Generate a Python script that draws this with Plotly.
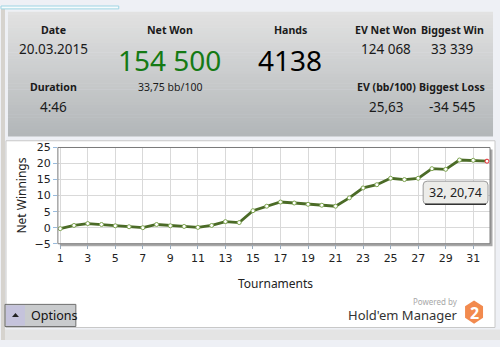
import plotly.graph_objects as go

W, H = 500, 347

tournaments = list(range(1, 33))
net_winnings = [-0.3, 0.7, 1.3, 1.0, 0.6, 0.3, 0.0, 1.0, 0.6, 0.4,
                0.1, 0.7, 1.9, 1.6, 5.3, 6.7, 8.0, 7.7, 7.3, 7.0,
                6.7, 9.3, 12.4, 13.4, 15.4, 15.0, 15.4, 18.4, 18.2, 21.1,
                21.0, 20.74]

stat_labels = ["Date", "Duration", "Net Won", "Hands", "EV Net Won", "Biggest Win", "EV (bb/100)", "Biggest Loss"]
stat_values = ["20.03.2015", "4:46", "154 500", "4138", "124 068", "33 339", "25,63", "-34 545"]
net_bb = "33,75 bb/100"


def px(x):
    return x / W


def py(y):
    return 1 - y / H


fig = go.Figure()

line_color = "#4b6b27"
marker_lines = ["#7fa552"] * (len(tournaments) - 1) + ["#e8232a"]
fig.add_trace(go.Scatter(
    x=tournaments, y=net_winnings, mode="lines+markers",
    line=dict(color=line_color, width=2.8),
    marker=dict(size=4, color="white", line=dict(color=marker_lines, width=1)),
    hoverinfo="skip", showlegend=False,
))

shapes = []
shapes.append(dict(type="rect", xref="paper", yref="paper", x0=0, x1=px(4), y0=0, y1=1,
                   fillcolor="#d6d3ce", line=dict(width=0), layer="below"))
shapes.append(dict(type="rect", xref="paper", yref="paper", x0=px(0), x1=px(118), y0=py(3), y1=py(0),
                   fillcolor="#f7fbfc", line=dict(color="#9fd5e3", width=1), layer="below"))
top_c = (0xe2, 0xe2, 0xe2)
bot_c = (0xb3, 0xb7, 0xb9)
y_top, y_bot = 6, 135
n = 40
for i in range(n):
    t = i / (n - 1)
    c = tuple(int(top_c[k] + (bot_c[k] - top_c[k]) * t) for k in range(3))
    ya = y_top + (y_bot - y_top) * i / n
    yb = y_top + (y_bot - y_top) * (i + 1) / n
    shapes.append(dict(type="rect", xref="paper", yref="paper", x0=px(7), x1=px(493),
                       y0=py(yb + 0.5), y1=py(ya), fillcolor="rgb(%d,%d,%d)" % c,
                       line=dict(width=0), layer="below"))
shapes.append(dict(type="rect", xref="paper", yref="paper", x0=px(5), x1=px(495), y0=py(334), y1=py(140),
                   fillcolor="white", line=dict(color="#c8c8c8", width=1), layer="below"))
shapes.append(dict(type="rect", xref="paper", yref="paper", x0=px(4), x1=px(500), y0=0, y1=py(336),
                   fillcolor="#e4e4e4", line=dict(width=0), layer="below"))
shapes.append(dict(type="rect", xref="paper", yref="paper", x0=px(59), x1=px(492.5), y0=py(249.5), y1=py(149),
                   fillcolor="#a8a8a8", line=dict(width=0), layer="below"))
shapes.append(dict(type="rect", xref="paper", yref="paper", x0=px(57), x1=px(490), y0=py(247), y1=py(147),
                   fillcolor="white", line=dict(width=0), layer="below"))
shapes.append(dict(type="rect", xref="paper", yref="paper", x0=px(57), x1=px(490), y0=py(247), y1=py(147),
                   fillcolor="rgba(0,0,0,0)", line=dict(color="#7a7a7a", width=1), layer="above"))

x0, x1, y0, y1, r = 423, 488, 182, 206, 4
path = ("M {a},{b} L {c},{b} Q {d},{b} {d},{e} L {d},{f} Q {d},{g} {c},{g} L {a},{g} Q {h},{g} {h},{f} "
        "L {h},{e} Q {h},{b} {a},{b} Z").format(
    a=px(x0 + r), b=py(y0), c=px(x1 - r), d=px(x1), e=py(y0 + r), f=py(y1 - r), g=py(y1), h=px(x0))
shapes.append(dict(type="path", xref="paper", yref="paper", path=path,
                   fillcolor="#ecece9", line=dict(color="#9a9a9a", width=1), layer="above"))
shapes.append(dict(type="line", xref="paper", yref="paper", x0=px(425), x1=px(486), y0=py(206), y1=py(206),
                   line=dict(color="#333333", width=1.5), layer="above"))

shapes.append(dict(type="rect", xref="paper", yref="paper", x0=px(4), x1=px(75), y0=py(333), y1=py(310),
                   fillcolor="#c9cbcd", line=dict(color="#6e6e6e", width=1), layer="above"))
shapes.append(dict(type="rect", xref="paper", yref="paper", x0=px(5), x1=px(24), y0=py(332), y1=py(311),
                   fillcolor="#c5c3dc", line=dict(width=0), layer="above"))
shapes.append(dict(type="path", xref="paper", yref="paper",
                   path="M {},{} L {},{} L {},{} Z".format(px(11), py(323), px(18), py(323), px(14.5), py(319)),
                   fillcolor="#222222", line=dict(width=0), layer="above"))

cx, cy = 474, 318
hx = [cx - 9, cx, cx + 9, cx + 9, cx, cx - 9]
hy = [cy - 6, cy - 12, cy - 6, cy + 6, cy + 12, cy + 6]
hpath = "M " + " L ".join("{},{}".format(px(a), py(b)) for a, b in zip(hx, hy)) + " Z"
shapes.append(dict(type="path", xref="paper", yref="paper", path=hpath,
                   fillcolor="#f28a4e", line=dict(width=0), layer="above"))

ann = []
FONT = "Noto Sans"


def text(x, y, s, size, color="#1a1a1a", bold=False, family=FONT, angle=0, xanchor="center"):
    ann.append(dict(x=px(x), y=py(y), xref="paper", yref="paper", text=("<b>%s</b>" % s) if bold else s,
                    showarrow=False, xanchor=xanchor, yanchor="middle", textangle=angle,
                    font=dict(family=family, size=size, color=color)))


LS = 10.6
text(53, 25, stat_labels[0], LS, bold=True)
text(53, 45, stat_values[0], 13.5)
text(53, 84, stat_labels[1], LS, bold=True)
text(53, 105, stat_values[1], 13.5)
text(169, 25, stat_labels[2], LS, bold=True)
text(169, 56, stat_values[2], 28, color="#157a15")
text(169, 84, net_bb, 10.5)
text(290, 25, stat_labels[3], LS, bold=True)
text(290, 56, stat_values[3], 28, color="#000000")
text(386, 25, stat_labels[4], LS, bold=True)
text(452, 25, stat_labels[5], LS, bold=True)
text(386, 45, stat_values[4], 13.5)
text(452, 45, stat_values[5], 13.5)
text(386, 84, stat_labels[6], LS, bold=True)
text(452, 84, stat_labels[7], LS, bold=True)
text(386, 105, stat_values[6], 13.5)
text(452, 105, stat_values[7], 13.5)

text(21, 197, "Net Winnings", 12, color="#222222", angle=-90)
text(275, 288, "Tournaments", 12, color="#222222")
text(455.5, 194, "%d, %s" % (tournaments[-1], ("%.2f" % net_winnings[-1]).replace(".", ",")), 12.5, color="#222222")
text(28, 322, "Options", 12.5, color="#111111", xanchor="left")
text(460, 307, "Powered by", 8, color="#a8a8a8", xanchor="right")
text(460, 321, "Hold'em Manager", 13, color="#333333", xanchor="right")
text(474.5, 318.5, "<b>2</b>", 16, color="white")

fig.update_layout(
    width=W, height=H, margin=dict(l=0, r=0, t=0, b=0),
    paper_bgcolor="#eef0f5", plot_bgcolor="rgba(0,0,0,0)",
    shapes=shapes, annotations=ann,
    xaxis=dict(domain=[px(57), px(490)], range=[0.83, 32.22], tick0=1, dtick=2,
               showgrid=True, gridcolor="#d9d9d9", gridwidth=1, zeroline=False,
               ticks="outside", ticklen=4, tickcolor="#9ab", showline=False,
               tickfont=dict(family="DejaVu Sans", size=11, color="#222222")),
    yaxis=dict(domain=[py(247), py(147)], range=[-5, 25], tick0=-5, dtick=5,
               showgrid=True, gridcolor="#d9d9d9", gridwidth=1, zeroline=False,
               ticks="outside", ticklen=4, tickcolor="#9bd", showline=False,
               tickfont=dict(family="DejaVu Sans", size=11, color="#222222")),
)

fig.write_html("out.html")
